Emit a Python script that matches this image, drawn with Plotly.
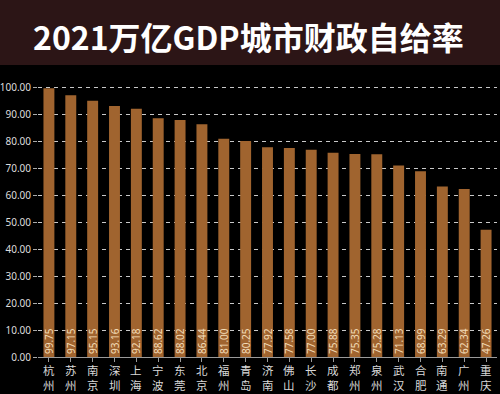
import plotly.graph_objects as go

cities = ["杭州", "苏州", "南京", "深圳", "上海", "宁波", "东莞", "北京", "福州", "青岛",
          "济南", "佛山", "长沙", "成都", "郑州", "泉州", "武汉", "合肥", "南通", "广州", "重庆"]
values = [99.75, 97.15, 95.15, 93.16, 92.18, 88.62, 88.02, 86.44, 81.00, 80.25,
          77.92, 77.58, 77.00, 75.88, 75.35, 75.28, 71.13, 68.99, 63.29, 62.34, 47.26]
yticks = [0, 10, 20, 30, 40, 50, 60, 70, 80, 90, 100]
title = "2021万亿GDP城市财政自给率"

T, B, L, R = 85, 37, 38, 3
PH = 394 - T - B
PW = 500 - L - R

fig = go.Figure(go.Bar(
    x=cities, y=values,
    marker=dict(color="#a0642f", line=dict(width=0)),
    width=0.5,
    text=[f"{v:.2f}" for v in values],
    textposition="inside", insidetextanchor="start", textangle=-90,
    textfont=dict(size=10, color="#f3dcb8", family="Noto Sans"),
    cliponaxis=False,
))

annotations = [dict(text=f"<b>{title}</b>", xref="paper", yref="paper",
                    x=(248 - L) / PW, y=1 + (T - 36) / PH, xanchor="center", yanchor="middle",
                    showarrow=False, font=dict(size=32, color="#ffffff", family="Noto Sans CJK SC"))]
for c in cities:
    annotations.append(dict(text="<br>".join(list(c)), x=c, xref="x", yref="paper",
                            y=-(360 - (394 - B)) / PH, yanchor="top", xanchor="center",
                            showarrow=False,
                            font=dict(size=11.5, color="#d8d8d8", family="Noto Sans CJK SC")))

fig.update_layout(
    width=500, height=394,
    paper_bgcolor="#000000", plot_bgcolor="#000000",
    margin=dict(l=L, r=R, t=T, b=B, autoexpand=False),
    font=dict(family="Noto Sans CJK SC", color="#dddddd"),
    showlegend=False,
    bargap=0.5,
    uniformtext=dict(minsize=8, mode="show"),
    shapes=[dict(type="rect", xref="paper", yref="paper",
                 x0=-0.2, x1=1.2, y0=1 + (T - 65) / PH, y1=1 + T / PH,
                 fillcolor="#2c1516", line=dict(width=0), layer="below")],
    annotations=annotations,
)

fig.update_xaxes(
    showticklabels=False, automargin=False,
    showline=True, linecolor="#9a9a9a", linewidth=1,
    ticks="outside", ticklen=4, tickcolor="#9a9a9a",
    showgrid=False, fixedrange=True,
)
fig.update_yaxes(
    range=[0, 101], tickvals=yticks, tickformat=".2f", automargin=False,
    ticks="outside", ticklen=4, tickcolor="#aaaaaa",
    tickfont=dict(size=10, color="#dddddd", family="Noto Sans"),
    showgrid=True, gridcolor="#c8c8c8", gridwidth=1, griddash="4px,4px",
    zeroline=False, showline=False,
)

fig.write_html("out.html", config={"displayModeBar": False},
               post_script="document.body.style.margin='0';document.body.style.overflow='hidden';document.body.style.background='#000';")
